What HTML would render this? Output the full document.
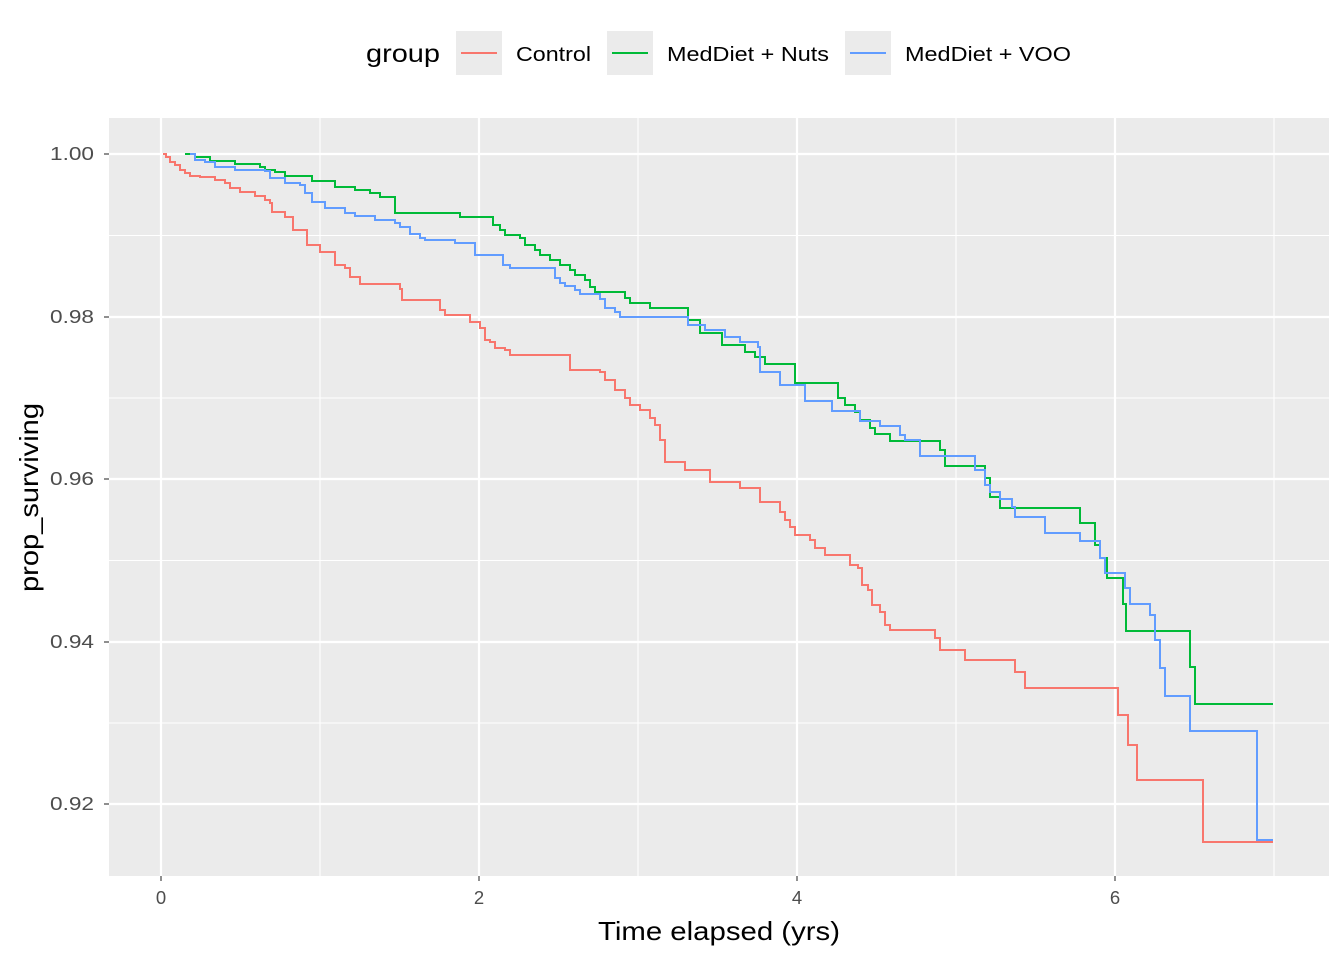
<!DOCTYPE html>
<html><head><style>body{margin:0;background:#fff}svg{display:block}</style></head><body>
<svg width="1344" height="960" xmlns="http://www.w3.org/2000/svg" font-family="Liberation Sans, sans-serif">
<rect x="109" y="118" width="1220" height="758" fill="#ebebeb"/>
<g stroke="#fff" stroke-width="1.1">
<line x1="109" x2="1329" y1="235.5" y2="235.5"/><line x1="109" x2="1329" y1="398" y2="398"/><line x1="109" x2="1329" y1="560.5" y2="560.5"/><line x1="109" x2="1329" y1="723" y2="723"/>
<line y1="118" y2="876" x1="320" x2="320"/><line y1="118" y2="876" x1="638" x2="638"/><line y1="118" y2="876" x1="956" x2="956"/><line y1="118" y2="876" x1="1274" x2="1274"/>
</g>
<g stroke="#fff" stroke-width="2.2">
<line x1="109" x2="1329" y1="154" y2="154"/><line x1="109" x2="1329" y1="317" y2="317"/><line x1="109" x2="1329" y1="479" y2="479"/><line x1="109" x2="1329" y1="642" y2="642"/><line x1="109" x2="1329" y1="804" y2="804"/>
<line y1="118" y2="876" x1="161" x2="161"/><line y1="118" y2="876" x1="479" x2="479"/><line y1="118" y2="876" x1="797" x2="797"/><line y1="118" y2="876" x1="1115" x2="1115"/>
</g>
<g stroke="#333" stroke-width="1.1">
<line x1="104" x2="109" y1="154" y2="154"/><line x1="104" x2="109" y1="317" y2="317"/><line x1="104" x2="109" y1="479" y2="479"/><line x1="104" x2="109" y1="642" y2="642"/><line x1="104" x2="109" y1="804" y2="804"/>
<line y1="876" y2="881" x1="161" x2="161"/><line y1="876" y2="881" x1="479" x2="479"/><line y1="876" y2="881" x1="797" x2="797"/><line y1="876" y2="881" x1="1115" x2="1115"/>
</g>
<g font-size="18.5" fill="#4d4d4d">
<text x="50" y="160" textLength="44" lengthAdjust="spacingAndGlyphs">1.00</text><text x="50" y="323" textLength="44" lengthAdjust="spacingAndGlyphs">0.98</text><text x="50" y="485" textLength="44" lengthAdjust="spacingAndGlyphs">0.96</text><text x="50" y="648" textLength="44" lengthAdjust="spacingAndGlyphs">0.94</text><text x="50" y="810" textLength="44" lengthAdjust="spacingAndGlyphs">0.92</text>
</g>
<g font-size="18.5" fill="#4d4d4d" text-anchor="middle">
<text x="161" y="904">0</text><text x="479" y="904">2</text><text x="797" y="904">4</text><text x="1115" y="904">6</text>
</g>
<text x="598" y="940" font-size="26" textLength="242" lengthAdjust="spacingAndGlyphs">Time elapsed (yrs)</text>
<text transform="translate(38,592) rotate(-90)" font-size="26" textLength="189" lengthAdjust="spacingAndGlyphs">prop_surviving</text>
<text x="366" y="62" font-size="25" textLength="74" lengthAdjust="spacingAndGlyphs">group</text>
<rect x="456" y="31" width="46" height="44" fill="#ebebeb"/><line x1="461" x2="497" y1="53" y2="53" stroke="#F8766D" stroke-width="2"/>
<text x="516" y="61" font-size="20.5" textLength="75" lengthAdjust="spacingAndGlyphs">Control</text>
<rect x="607" y="31" width="46" height="44" fill="#ebebeb"/><line x1="612" x2="648" y1="53" y2="53" stroke="#00BA38" stroke-width="2"/>
<text x="667" y="61" font-size="20.5" textLength="162" lengthAdjust="spacingAndGlyphs">MedDiet + Nuts</text>
<rect x="845" y="31" width="46" height="44" fill="#ebebeb"/><line x1="850" x2="886" y1="53" y2="53" stroke="#619CFF" stroke-width="2"/>
<text x="905" y="61" font-size="20.5" textLength="166" lengthAdjust="spacingAndGlyphs">MedDiet + VOO</text>
<path id="r" fill="none" stroke="#F8766D" stroke-width="2"/>
<path id="g" fill="none" stroke="#00BA38" stroke-width="2"/>
<path id="b" fill="none" stroke="#619CFF" stroke-width="2"/>
</svg>
<script>
function st(id,p){let d="M"+p[0]+","+p[1];for(let i=2;i<p.length;i+=2){d+=" H"+p[i]+" V"+p[i+1];}document.getElementById(id).setAttribute("d",d);}
st("r",[163,154,166,157,170,162,175,165,180,170,185,173,190,176,200,177,215,180,225,183,230,188,240,192,255,196,265,200,270,203,272,212,285,217,293,222,293,230,305,230,307,245,317,245,320,252,330,252,335,265,345,268,350,277,360,284,380,284,400,289,402,300,420,300,440,310,445,315,465,315,470,322,480,328,485,340,490,342,495,348,505,350,510,355,570,362,570,370,600,372,605,380,615,390,625,398,630,405,640,410,650,418,655,425,660,440,665,455,665,462,685,462,685,470,710,470,710,482,740,482,740,488,755,488,760,502,775,502,780,512,785,520,790,527,795,535,810,540,815,548,825,555,848,555,850,565,858,568,862,585,868,590,872,605,880,612,885,625,890,630,933,630,935,638,940,650,965,650,965,660,1015,660,1015,672,1025,672,1025,688,1118,688,1118,715,1128,715,1128,745,1137,745,1137,780,1203,780,1203,842,1273,842]);
st("g",[185,154,195,157,210,157,210,161,230,161,235,164,260,167,265,170,275,172,285,176,310,176,312,181,330,181,335,187,355,190,370,193,380,197,395,197,395,213,460,213,460,217,490,217,493,225,500,230,505,235,520,238,525,245,535,250,540,255,550,260,560,265,570,270,575,275,585,280,590,287,595,292,620,292,625,298,630,303,645,303,650,308,685,308,688,320,700,320,700,333,720,333,722,345,740,345,745,352,755,357,765,364,795,364,795,383,835,383,838,398,845,405,855,412,860,420,870,428,875,434,890,434,890,441,935,441,940,450,945,466,980,466,985,478,990,497,1000,508,1077,508,1080,523,1090,523,1095,545,1100,558,1107,578,1120,578,1123,604,1126,631,1187,631,1190,667,1195,704,1273,704]);
st("b",[190,154,195,160,205,162,215,167,235,170,265,171,270,178,285,183,300,185,305,193,312,202,325,208,345,213,355,216,375,220,395,223,400,227,410,234,420,238,425,240,448,240,455,243,475,255,500,255,503,265,510,268,550,268,555,278,560,283,565,286,575,290,580,294,600,299,605,308,615,312,620,317,688,317,688,325,700,325,705,330,725,337,740,342,758,347,760,372,780,372,780,385,800,385,805,401,830,401,832,411,855,411,860,421,880,426,900,435,905,440,920,448,920,456,972,456,975,470,985,485,990,492,1000,499,1012,507,1015,517,1045,525,1045,533,1080,541,1100,541,1100,558,1105,573,1120,573,1125,588,1130,604,1150,615,1155,640,1160,668,1165,696,1187,696,1190,731,1257,731,1257,840,1273,840]);
</script>
</body></html>
